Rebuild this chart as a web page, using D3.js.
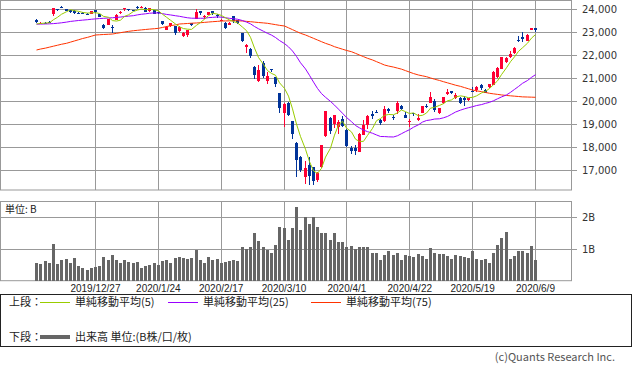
<!DOCTYPE html>
<html>
<head>
<meta charset="utf-8">
<script src="https://cdn.jsdelivr.net/npm/d3@7"></script>
<style>
  body { margin: 0; background: #fff; }
  svg { display: block; }
</style>
</head>
<body>
<div class="stockchart"></div>
<script>
// trading days (x axis)
const dates = [
  "2019/12/9","2019/12/10","2019/12/11","2019/12/12","2019/12/13","2019/12/16","2019/12/17","2019/12/18","2019/12/19","2019/12/20",
  "2019/12/23","2019/12/24","2019/12/25","2019/12/26","2019/12/27","2019/12/30",
  "2020/1/6","2020/1/7","2020/1/8","2020/1/9","2020/1/10","2020/1/14","2020/1/15","2020/1/16","2020/1/17","2020/1/20",
  "2020/1/21","2020/1/22","2020/1/23","2020/1/24","2020/1/27","2020/1/28","2020/1/29","2020/1/30","2020/1/31",
  "2020/2/3","2020/2/4","2020/2/5","2020/2/6","2020/2/7","2020/2/10","2020/2/12","2020/2/13","2020/2/14","2020/2/17",
  "2020/2/18","2020/2/19","2020/2/20","2020/2/21","2020/2/25","2020/2/26","2020/2/27","2020/2/28",
  "2020/3/2","2020/3/3","2020/3/4","2020/3/5","2020/3/6","2020/3/9","2020/3/10","2020/3/11","2020/3/12","2020/3/13",
  "2020/3/16","2020/3/17","2020/3/18","2020/3/19","2020/3/23","2020/3/24","2020/3/25","2020/3/26","2020/3/27","2020/3/30","2020/3/31",
  "2020/4/1","2020/4/2","2020/4/3","2020/4/6","2020/4/7","2020/4/8","2020/4/9","2020/4/10","2020/4/13","2020/4/14",
  "2020/4/15","2020/4/16","2020/4/17","2020/4/20","2020/4/21","2020/4/22","2020/4/23","2020/4/24","2020/4/27","2020/4/28","2020/4/30",
  "2020/5/1","2020/5/7","2020/5/8","2020/5/11","2020/5/12","2020/5/13","2020/5/14","2020/5/15","2020/5/18","2020/5/19",
  "2020/5/20","2020/5/21","2020/5/22","2020/5/25","2020/5/26","2020/5/27","2020/5/28","2020/5/29",
  "2020/6/1","2020/6/2","2020/6/3","2020/6/4","2020/6/5","2020/6/8","2020/6/9"
];

const open = [23530,23370,23410,23440,23780,23980,24100,24000,23950,23900,
  23840,23840,23800,23790,23940,23790,23320,23320,23217,23530,
  23800,23960,23980,23950,24100,24080,24050,23900,23960,23860,
  23480,23100,23250,23260,23030,22830,22850,23400,23580,23900,
  23650,23750,23900,23750,23490,23400,23310,23680,23520,22950,
  22330,22250,21500,20850,21640,20880,21390,21060,20340,19474,
  19930,19120,18170,17580,16720,17200,17150,16570,17140,18446,
  19250,19000,18880,19230,18740,17940,17950,17800,18520,18960,
  19430,19510,19170,19100,19650,19300,19530,19800,19400,19130,
  19470,19170,19480,19800,19940,20000,19470,19900,20300,20440,
  20130,20150,20140,20050,20450,20450,20700,20500,20600,20710,
  21040,21400,21720,21910,22100,22660,22800,22620,23100,23160];

const high = [23560,23450,23430,23470,24050,24020,24130,24010,23960,23950,
  23870,23850,23820,23930,23950,23800,23360,23580,23300,23770,
  23900,24060,24000,23960,24130,24115,24070,24050,23970,23870,
  23490,23240,23390,23280,23250,23010,23100,23410,23995,23920,
  23730,23880,23910,23770,23560,23420,23420,23700,23540,22960,
  22490,22290,21530,21560,21720,21250,21400,21060,20350,19900,
  19960,19150,18200,17600,17400,17560,17150,16920,18100,19564,
  19300,19400,19170,19330,18780,18060,18090,18620,19170,19400,
  19580,19620,19200,19770,19700,19400,20000,19830,19500,19200,
  19480,19420,19800,19860,20370,20100,19700,20180,20530,20450,
  20330,20180,20210,20150,20600,20640,20740,20530,20760,21300,
  21460,21930,21930,22160,22350,22830,23000,22920,23190,23190];

const low = [23390,23350,23370,23400,23700,23930,24040,23920,23830,23790,
  23800,23810,23760,23770,23820,23640,23110,23300,22951,23520,
  23780,23930,23900,23900,24000,24050,23850,23880,23780,23790,
  23320,23080,23230,22890,22990,22780,22800,23260,23560,23740,
  23580,23720,23750,23630,23460,23140,23290,23390,23340,22550,
  22080,21890,20950,20830,21000,20750,21250,20610,19470,18890,
  19360,18340,16690,16900,16380,16350,16360,16480,17100,18420,
  18580,18810,18580,18870,17990,17710,17650,17790,18500,18770,
  19220,19480,18940,19080,19490,19160,19450,19600,19250,18870,
  19330,19150,19460,19710,19900,19520,19450,19850,20280,20300,
  20100,19860,19800,19980,20380,20400,20500,20350,20560,20690,
  21000,21380,21650,21880,22050,22560,22580,22590,23080,23000];

const close = [23430,23410,23391,23424,24023,23952,24066,23934,23864,23816,
  23821,23830,23782,23924,23837,23656,23204,23575,23204,23739,
  23850,24025,23916,23933,24041,24083,23864,24031,23795,23827,
  23343,23215,23379,22977,23205,22971,23084,23319,23873,23827,
  23685,23861,23827,23687,23523,23193,23400,23479,23386,22605,
  22426,21948,21142,21344,21082,21100,21329,20749,19698,19867,
  19416,18559,17431,17002,17100,16726,16552,16887,18092,19546,
  18665,19389,19084,18917,18065,17819,17820,18576,18950,19353,
  19345,19498,19043,19638,19550,19290,19897,19669,19280,19137,
  19429,19262,19783,19771,20193,19619,19674,20179,20390,20366,
  20267,19914,20037,20133,20433,20595,20552,20388,20741,21271,
  21419,21916,21877,22062,22325,22613,22695,22863,23178,23091];

// volume, billions
const volume = [0.57,0.53,0.62,0.57,1.16,0.53,0.65,0.68,0.57,0.72,
  0.46,0.39,0.34,0.40,0.44,0.46,0.75,0.65,0.81,0.65,
  0.57,0.64,0.60,0.57,0.60,0.40,0.46,0.50,0.57,0.50,
  0.62,0.65,0.57,0.72,0.75,0.72,0.68,0.72,0.97,0.65,
  0.57,0.75,0.65,0.68,0.57,0.60,0.62,0.65,0.62,1.06,
  0.99,1.06,1.50,1.25,1.06,0.97,0.87,1.13,1.69,1.66,
  1.28,1.66,2.32,1.60,2.01,1.79,2.02,1.70,1.49,1.49,
  1.28,1.51,1.23,1.23,1.07,1.10,0.99,1.05,1.07,1.05,
  0.86,0.88,0.65,0.81,0.94,0.81,0.88,0.65,0.81,0.78,
  0.74,0.84,0.78,0.68,1.02,0.87,0.84,0.84,0.78,0.70,
  0.81,0.78,0.76,0.73,0.94,0.70,0.65,0.70,0.57,0.86,
  1.13,1.34,1.55,0.70,0.78,0.94,0.94,0.88,1.10,0.65];

// moving average values before the window is full
const ma5Lead = [23350,23370,23390,23402];
const ma25Lead = [23340,23345,23350,23355,23365,23380,23400,23430,23460,23480,
  23500,23515,23535,23555,23570,23585,23595,23610,23620,23635,
  23650,23670,23690,23710];
// 75 day average
const ma75 = [22217,22259,22300,22342,22384,22425,22467,22509,
  22560,22612,22663,22715,22767,22818,22870,
  22881,22891,22902,22913,22942,22971,23000,23028,23057,
  23074,23092,23109,23126,23144,23161,23198,23236,23273,23311,23348,
  23359,23370,23382,23393,23404,23419,23434,23448,23463,23478,
  23481,23485,23488,23491,23477,23462,23448,23430,23413,23395,23378,
  23349,23320,23290,23261,23182,23102,23023,22943,22870,22798,22725,22652,
  22579,22507,22434,22361,22307,22252,22198,22143,22072,22000,21929,21857,
  21784,21711,21638,21565,21520,21475,21430,21385,21321,21257,21194,21130,
  21094,21057,21002,20948,20893,20839,20790,20740,
  20688,20636,20583,20531,20478,20442,20407,20371,20335,
  20311,20288,20264,20240,20225,20210,20195,20180,20173,20167,20161];

const priceTicks = [17000,18000,19000,20000,21000,22000,23000,24000];
const volTicks = [1,2];
const tickDates = ["2019/12/27","2020/1/24","2020/2/17","2020/3/10","2020/4/1","2020/4/22","2020/5/19","2020/6/9"];

const Width = 633, Height = 372;
const Plot = { left: 1, right: 571, top: 0.5, bottom: 190, vTop: 201, vBottom: 280.7 };
const Red = "#ff0033", Blue = "#003399", Grid = "#999";

const svg = d3.select(".stockchart").append("svg")
  .attr("width", Width)
  .attr("height", Height);

// scales
const x = d3.scalePoint().domain(dates).range([36.3, 535]);
const y = d3.scaleLinear().domain([17000, 24000]).range([170, 9]);
const yv = d3.scaleLinear().domain([0, 2]).range([Plot.vBottom, 217.3]);
const cx = d => Math.round(x(d));

// moving averages
const movAvg = (n, lead) => close.map((c, i) =>
  i < n - 1 ? lead[i] : d3.mean(close.slice(i - n + 1, i + 1)));
const ma5 = movAvg(5, ma5Lead);
const ma25 = movAvg(25, ma25Lead);

// grid lines
const grid = svg.append("g").attr("stroke", Grid).attr("stroke-width", 1);
grid.selectAll(".hp").data(priceTicks).join("line")
  .attr("x1", Plot.left).attr("x2", Plot.right + 6)
  .attr("y1", d => Math.round(y(d)) + 0.5).attr("y2", d => Math.round(y(d)) + 0.5);
grid.selectAll(".hv").data(volTicks).join("line")
  .attr("x1", Plot.left).attr("x2", Plot.right + 6)
  .attr("y1", d => Math.round(yv(d)) + 0.5).attr("y2", d => Math.round(yv(d)) + 0.5);
tickDates.forEach(d => {
  grid.append("line").attr("x1", cx(d) + 0.5).attr("x2", cx(d) + 0.5)
    .attr("y1", Plot.top).attr("y2", Plot.bottom);
  grid.append("line").attr("x1", cx(d) + 0.5).attr("x2", cx(d) + 0.5)
    .attr("y1", Plot.vTop).attr("y2", Plot.vBottom);
});
// panel frames
grid.append("rect").attr("fill", "none")
  .attr("x", Plot.left - 0.5).attr("y", Plot.top)
  .attr("width", Plot.right - Plot.left + 1).attr("height", Plot.bottom - Plot.top);
grid.append("rect").attr("fill", "none")
  .attr("x", Plot.left - 0.5).attr("y", Plot.vTop + 0.5)
  .attr("width", Plot.right - Plot.left + 1).attr("height", Plot.vBottom - Plot.vTop - 0.5);

// price labels
svg.append("g").selectAll("text").data(priceTicks).join("text")
  .attr("x", 582).attr("y", d => y(d) + 4)
  .style("font", "10px 'DejaVu Sans'").style("fill", "#333")
  .text(d3.format(","));
svg.append("g").selectAll("text").data(volTicks).join("text")
  .attr("x", 582).attr("y", d => yv(d) + 4)
  .style("font", "10px 'DejaVu Sans'").style("fill", "#333")
  .text(d => d + "B");

// candles
const candles = svg.append("g").attr("shape-rendering", "crispEdges")
  .selectAll("g").data(dates).join("g")
  .attr("fill", (d, i) => close[i] >= open[i] ? Red : Blue)
  .attr("stroke", (d, i) => close[i] >= open[i] ? Red : Blue);
candles.append("line")
  .attr("x1", d => cx(d) + 0.5).attr("x2", d => cx(d) + 0.5)
  .attr("y1", (d, i) => Math.round(y(high[i]))).attr("y2", (d, i) => Math.round(y(low[i])));
candles.append("rect").attr("stroke", "none")
  .attr("x", d => cx(d) - 1).attr("width", 3)
  .attr("y", (d, i) => Math.round(Math.min(y(open[i]), y(close[i]))))
  .attr("height", (d, i) => Math.max(1, Math.round(Math.abs(y(open[i]) - y(close[i])))));

// average lines
const maLine = d3.line().x((d, i) => cx(dates[i]) + 0.5).y(d => y(d));
[[ma75, "#ff3300"], [ma25, "#9900ff"], [ma5, "#99cc00"]].forEach(([s, c]) => {
  svg.append("path").datum(s)
    .attr("fill", "none").attr("stroke", c).attr("stroke-width", 1)
    .attr("d", maLine);
});

// volume bars
svg.append("g").attr("fill", "#666").attr("shape-rendering", "crispEdges")
  .selectAll("rect").data(dates).join("rect")
  .attr("x", d => cx(d) - 1).attr("width", 3)
  .attr("y", (d, i) => yv(volume[i]))
  .attr("height", (d, i) => yv(0) - yv(volume[i]));

svg.append("text").attr("x", 5).attr("y", 213)
  .style("font", "10px 'Noto Sans CJK JP'").style("fill", "#222")
  .text("単位: B");

// date axis
const xAxis = svg.append("g")
  .attr("transform", "translate(0," + 282 + ")")
  .call(d3.axisBottom(x).tickValues(tickDates).tickSize(0).tickPadding(0));
xAxis.select(".domain").remove();
xAxis.selectAll("text")
  .attr("dy", "10px")
  .style("font", "10px 'Liberation Sans'").style("fill", "#222");

// legend
const legend = svg.append("g").style("font", "11px 'Noto Sans CJK JP'").style("fill", "#222");
legend.append("rect").attr("x", 0.5).attr("y", 294.5).attr("width", 631).attr("height", 52)
  .attr("fill", "none").attr("stroke", "#222");
legend.append("text").attr("x", 9).attr("y", 306).text("上段：");
legend.append("text").attr("x", 9).attr("y", 341).text("下段：");
const legendItems = [
  { x: 40, label: "単純移動平均(5)", color: "#99cc00" },
  { x: 168, label: "単純移動平均(25)", color: "#9900ff" },
  { x: 311, label: "単純移動平均(75)", color: "#ff3300" }
];
legendItems.forEach(it => {
  legend.append("line").attr("x1", it.x).attr("x2", it.x + 30)
    .attr("y1", 302.5).attr("y2", 302.5).attr("stroke", it.color);
  legend.append("text").attr("x", it.x + 35).attr("y", 306).text(it.label);
});
legend.append("line").attr("x1", 40).attr("x2", 70).attr("y1", 337).attr("y2", 337)
  .attr("stroke", "#666").attr("stroke-width", 4);
legend.append("text").attr("x", 75).attr("y", 341).text("出来高 単位:(B株/口/枚)");

svg.append("text").attr("x", 615).attr("y", 361)
  .attr("text-anchor", "end")
  .style("font", "11px 'Noto Sans CJK JP'").style("fill", "#555")
  .text("(c)Quants Research Inc.");
</script>
</body>
</html>
